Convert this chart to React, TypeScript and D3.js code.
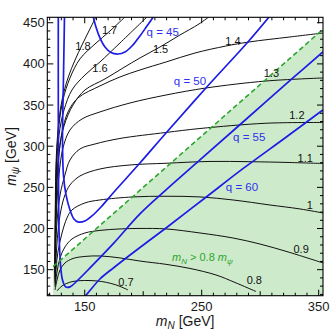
import React from 'react';
import * as d3 from 'd3';

type Pt = [number, number];

const W = 332;
const H = 335;
const margin = { top: 17.3, right: 9, bottom: 39.3, left: 47.3 };
const xDomain = [118, 353.7];
const yDomain = [118.4, 456.6];

// contour lines (m_N, m_psi) in GeV
const c07: Pt[] = [[126.3, 124.2], [130.6, 130.3], [140.0, 135.7], [160.5, 136.3], [175.9, 131.9], [187.0, 125.4]];
const c08: Pt[] = [[124.6, 125.4], [126.3, 137.5], [128.9, 149.7], [133.1, 158.2], [140.0, 163.6], [150.2, 166.1], [163.0, 166.7], [180.1, 164.3], [197.2, 160.5], [219.5, 156.5], [240.0, 151.5], [262.2, 143.6], [278.4, 134.5], [296.4, 123.5]];
const c09: Pt[] = [[124.6, 129.1], [126.3, 147.2], [128.9, 164.3], [133.1, 177.6], [139.1, 187.3], [150.2, 194.6], [163.0, 197.7], [180.1, 199.5], [197.2, 200.1], [219.5, 199.5], [248.5, 194.6], [276.7, 188.5], [299.8, 181.2], [325.4, 170.9], [353.6, 158.2]];
const c10: Pt[] = [[124.6, 131.5], [125.4, 149.7], [127.1, 171.5], [130.6, 194.6], [134.8, 212.8], [139.1, 222.6], [150.2, 231.1], [163.0, 234.7], [191.2, 238.4], [219.5, 239.2], [248.5, 238.4], [276.7, 234.7], [308.3, 228.6], [334.0, 223.8], [353.6, 218.9]];
const c11: Pt[] = [[124.6, 133.9], [125.4, 161.8], [127.1, 195.8], [129.7, 222.6], [133.1, 240.8], [137.4, 252.9], [145.9, 263.8], [163.0, 272.3], [188.7, 277.2], [219.5, 279.3], [257.1, 281.5], [290.4, 281.2], [325.4, 280.2], [353.6, 279.0]];
const c12: Pt[] = [[124.6, 136.3], [125.0, 167.9], [126.3, 208.0], [128.9, 240.8], [133.1, 265.1], [137.4, 283.3], [145.9, 296.6], [158.8, 302.7], [180.1, 309.4], [219.5, 316.7], [248.5, 321.5], [304.9, 327.9], [353.6, 328.8]];
const c13: Pt[] = [[124.6, 138.7], [125.0, 180.0], [125.9, 222.6], [128.0, 265.1], [131.4, 297.9], [137.4, 319.7], [147.7, 333.1], [163.0, 341.6], [188.7, 352.5], [219.5, 362.2], [253.6, 370.7], [304.9, 379.2], [353.6, 382.9]];
const c14: Pt[] = [[124.6, 141.2], [125.0, 192.2], [125.9, 240.8], [127.6, 283.3], [130.6, 317.3], [135.7, 341.6], [144.2, 358.6], [163.0, 373.2], [180.1, 384.1], [197.2, 392.6], [219.5, 402.3], [244.2, 413.2], [270.7, 421.7], [290.4, 426.6], [325.4, 432.7], [353.6, 437.5]];
const c15: Pt[] = [[124.6, 143.6], [125.0, 204.3], [125.9, 252.9], [128.0, 293.0], [132.3, 324.6], [140.0, 350.1], [150.2, 368.3], [167.3, 381.7], [182.7, 395.0], [197.2, 407.2], [214.3, 420.5], [231.4, 435.1], [247.7, 448.5], [257.1, 458.2]];
const c16: Pt[] = [[124.6, 146.0], [125.0, 216.5], [125.9, 271.1], [128.0, 313.6], [132.3, 344.0], [139.1, 368.3], [150.2, 386.5], [163.0, 402.3], [180.1, 425.4], [204.1, 458.2]];
const c17: Pt[] = [[124.6, 148.5], [125.0, 228.6], [125.9, 283.3], [128.0, 325.8], [131.4, 356.2], [137.4, 382.9], [145.9, 406.0], [158.8, 424.2], [171.6, 440.0], [184.4, 457.0]];
const c18: Pt[] = [[124.6, 150.9], [124.9, 234.7], [125.4, 277.2], [127.1, 319.7], [130.6, 356.2], [135.7, 382.9], [141.7, 404.7], [147.7, 423.0], [153.6, 440.0], [159.6, 457.0]];
const contours = [c07, c08, c09, c10, c11, c12, c13, c14, c15, c16, c17, c18];

// contour labels
const levelText = ['0.7', '0.8', '0.9', '1', '1.1', '1.2', '1.3', '1.4', '1.5', '1.6', '1.7', '1.8'];
const levelPos: Pt[] = [[185.3, 135.1], [295.0, 137.5], [335.0, 175.0], [342.5, 228.0], [338.5, 285.7], [331.4, 338.0], [309.6, 389.5], [276.7, 427.8], [214.8, 417.5], [163.0, 395.5], [171.2, 440.6], [148.5, 422.0]];

// q = const lines
const q45: Pt[] = [[157.1, 458.2], [159.6, 444.8], [163.0, 431.5], [167.3, 420.5], [172.4, 413.8], [178.4, 412.0], [184.4, 414.5], [190.4, 421.7], [197.2, 433.9], [203.2, 446.0], [209.2, 458.2]];
const q50: Pt[] = [[132.7, 458.2], [131.8, 380.4], [131.0, 307.6], [131.8, 265.1], [134.0, 240.8], [137.4, 222.6], [140.8, 211.6], [144.2, 208.0], [150.2, 209.2], [156.2, 215.3], [163.9, 226.2], [175.0, 244.4], [197.2, 279.6], [219.5, 316.1], [253.6, 370.7], [289.5, 426.6], [308.3, 458.2]];
const q55: Pt[] = [[127.4, 458.2], [127.4, 356.2], [127.6, 259.0], [128.0, 198.3], [129.3, 155.8], [131.0, 137.5], [133.7, 129.1], [137.4, 129.1], [143.4, 136.3], [154.5, 152.1], [175.0, 182.5], [197.2, 217.7], [219.5, 246.9], [248.5, 283.3], [285.3, 329.4], [328.0, 382.9], [353.6, 414.5]];
const q60: Pt[] = [[149.4, 116.9], [152.0, 120.5], [163.0, 138.7], [175.0, 152.7], [197.2, 177.0], [219.5, 200.7], [252.8, 237.1], [286.1, 273.6], [321.2, 310.0], [353.6, 344.0]];
const qLines = [q45, q50, q55, q60];
const qText = ['q = 45', 'q = 50', 'q = 55', 'q = 60'];
const qPos: Pt[] = [[216.7, 439.1], [240.0, 379.2], [290.6, 310.6], [284.4, 250.5]];

// m_N = 0.8 m_psi boundary
const boundary: Pt[] = [[122.9, 153.6], [353.7, 442.1]];
const regionLabelPos: Pt = [250.6, 164.9];

const yTickLabels = [150, 200, 250, 300, 350, 400, 450];
const xTickLabels = [150, 250, 350];
const xMidTicks = [200, 300];

const BLUE = '#1c1ce6';
const GREEN = '#2ea62e';
const FONT = "'Liberation Sans', Arial, Helvetica, sans-serif";

export default function App() {
  const iw = W - margin.left - margin.right;
  const ih = H - margin.top - margin.bottom;
  const x = d3.scaleLinear().domain(xDomain).range([0, iw]);
  const y = d3.scaleLinear().domain(yDomain).range([ih, 0]);

  const line = d3
    .line<Pt>()
    .x((d) => x(d[0]))
    .y((d) => y(d[1]))
    .curve(d3.curveCatmullRom.alpha(0.5));
  const straight = d3
    .line<Pt>()
    .x((d) => x(d[0]))
    .y((d) => y(d[1]));

  const [b0, b1] = boundary;
  const fillPts: Pt[] = [b0, b1, [b1[0], yDomain[0] - 5], [b0[0], yDomain[0] - 5]];

  const yMinor = d3.range(120, 457, 10);
  const xMinor = d3.range(120, 354, 10);

  return (
    <svg
      width={W}
      height={H}
      style={{ position: 'absolute', left: 0, top: 0, background: '#fff' }}
      fontFamily={FONT}
    >
      <defs>
        <clipPath id="plotArea">
          <rect x={0} y={0} width={iw} height={ih} />
        </clipPath>
      </defs>
      <g transform={`translate(${margin.left},${margin.top})`}>
        <g clipPath="url(#plotArea)">
          <path d={straight(fillPts) + 'Z'} fill="#cdeacb" />
          {contours.map((c, i) => (
            <path key={i} d={line(c) || ''} fill="none" stroke="#111" strokeWidth={1} />
          ))}
          {qLines.map((q, i) => (
            <path key={i} d={line(q) || ''} fill="none" stroke={BLUE} strokeWidth={1.7} />
          ))}
          <path
            d={straight(boundary) || ''}
            fill="none"
            stroke={GREEN}
            strokeWidth={1.6}
            strokeDasharray="5,3"
          />
        </g>

        {levelText.map((t, i) => (
          <text
            key={t}
            x={x(levelPos[i][0])}
            y={y(levelPos[i][1])}
            fontSize={11}
            textAnchor="middle"
            dominantBaseline="central"
            fill="#111"
          >
            {t}
          </text>
        ))}
        {qText.map((t, i) => (
          <text
            key={t}
            x={x(qPos[i][0])}
            y={y(qPos[i][1])}
            fontSize={11.5}
            textAnchor="middle"
            dominantBaseline="central"
            fill="#3030ee"
          >
            {t}
          </text>
        ))}
        <text
          x={x(regionLabelPos[0])}
          y={y(regionLabelPos[1]) + 4}
          fontSize={11}
          textAnchor="middle"
          fill={GREEN}
        >
          <tspan fontStyle="italic">m</tspan>
          <tspan fontStyle="italic" fontSize={8} dy={2.5}>N</tspan>
          <tspan dy={-2.5}> &gt; 0.8 </tspan>
          <tspan fontStyle="italic">m</tspan>
          <tspan fontStyle="italic" fontSize={8} dy={2.5}>ψ</tspan>
        </text>

        {/* frame */}
        <rect x={0} y={0} width={iw} height={ih} fill="none" stroke="#000" strokeWidth={1.1} />

        {/* y ticks */}
        {yMinor.map((v) => {
          const major = yTickLabels.includes(v);
          const len = major ? 6 : 3;
          return (
            <g key={'y' + v}>
              <line x1={0} x2={len} y1={y(v)} y2={y(v)} stroke="#000" />
              <line x1={iw} x2={iw - len} y1={y(v)} y2={y(v)} stroke="#000" />
            </g>
          );
        })}
        {yTickLabels.map((v) => (
          <text
            key={'yl' + v}
            x={-2.5}
            y={y(v)}
            fontSize={13}
            textAnchor="end"
            dominantBaseline="central"
            fill="#1a1a1a"
          >
            {v}
          </text>
        ))}

        {/* x ticks */}
        {xMinor.map((v) => {
          const major = xTickLabels.includes(v);
          const mid = xMidTicks.includes(v);
          const len = major ? 6 : mid ? 4.5 : 3;
          return (
            <g key={'x' + v}>
              <line x1={x(v)} x2={x(v)} y1={ih} y2={ih - len} stroke="#000" />
              <line x1={x(v)} x2={x(v)} y1={0} y2={len} stroke="#000" />
            </g>
          );
        })}
        {xTickLabels.map((v) => (
          <text
            key={'xl' + v}
            x={x(v)}
            y={ih + 15}
            fontSize={13}
            textAnchor="middle"
            fill="#1a1a1a"
          >
            {v}
          </text>
        ))}
      </g>

      {/* axis titles */}
      <text x={margin.left + iw / 2} y={326} fontSize={14} textAnchor="middle" fill="#1a1a1a">
        <tspan fontStyle="italic">m</tspan>
        <tspan fontStyle="italic" fontSize={10} dy={3}>N</tspan>
        <tspan dy={-3}> [GeV]</tspan>
      </text>
      <text
        transform={`translate(15.5,${margin.top + ih / 2}) rotate(-90)`}
        fontSize={14}
        textAnchor="middle"
        fill="#1a1a1a"
      >
        <tspan fontStyle="italic">m</tspan>
        <tspan fontStyle="italic" fontSize={10} dy={3}>ψ</tspan>
        <tspan dy={-3}> [GeV]</tspan>
      </text>
    </svg>
  );
}
